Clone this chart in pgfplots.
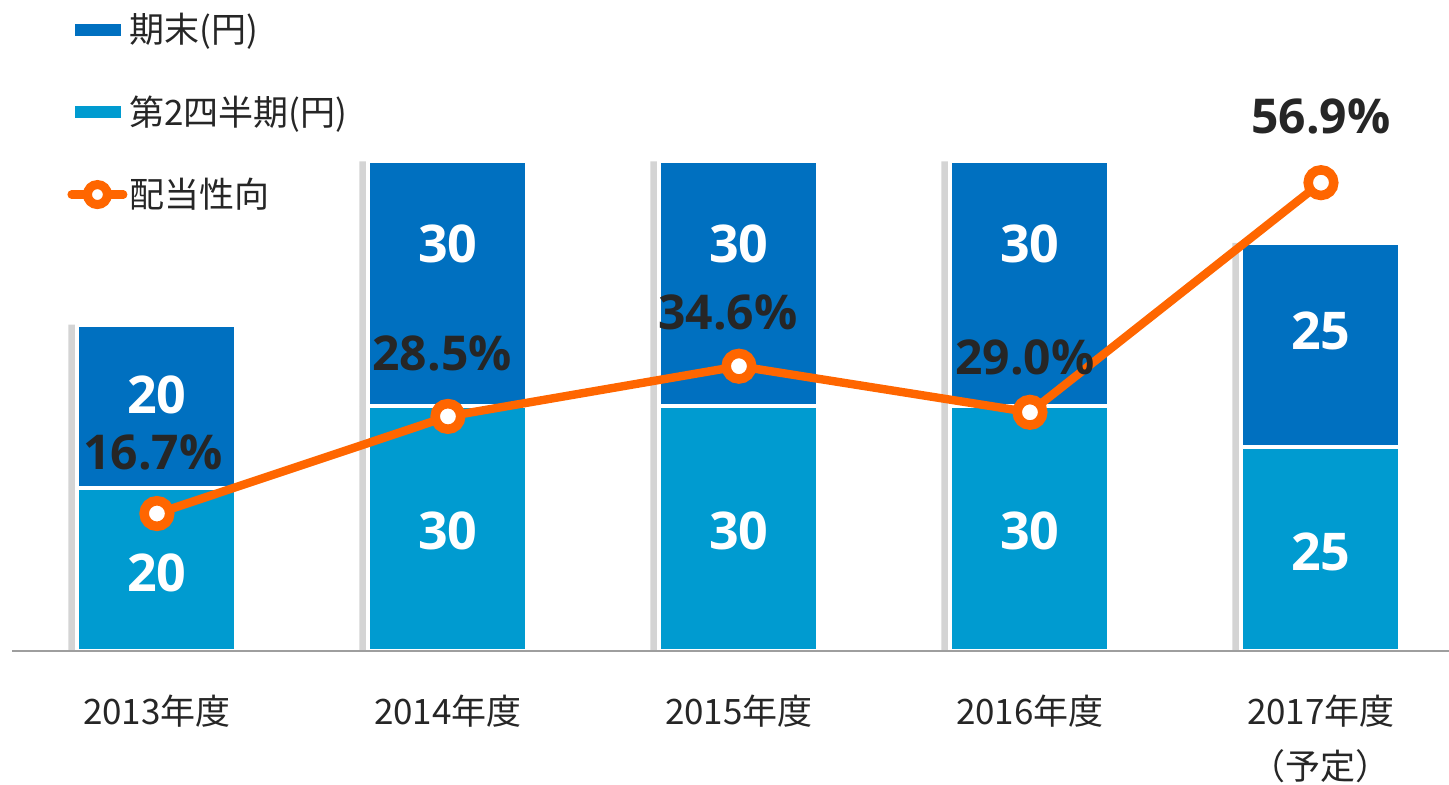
\documentclass[border=0pt]{standalone}
\usepackage{fontspec}
\setmainfont{Noto Sans CJK JP}
\newfontfamily\numfont{Open Sans}
\usepackage{pgfplots}
\pgfplotsset{compat=1.18}
\definecolor{dblue}{HTML}{0070C0}
\definecolor{lblue}{HTML}{009BD0}
\definecolor{lorange}{HTML}{FF6600}
\definecolor{txt}{HTML}{262626}
\pgfplotsset{
  common/.style={
    at={(6pt,67pt)}, anchor=south west,
    scale only axis, width=718.5pt, height=285.6pt,
    xmin=-0.498, xmax=4.44, clip=false,
  },
  linelegend/.style={legend image code/.code={%
    \draw[lorange, line width=4.2pt, line cap=round] (2.1pt,0pt) -- (27.9pt,0pt);
    \draw[lorange, line width=4.5pt, fill=white] (15pt,0pt) circle (5pt);}},
  darklegend/.style={legend image code/.code={\fill[dblue] (4pt,-2.75pt) rectangle (26.5pt,2.75pt);}},
  lightlegend/.style={legend image code/.code={\fill[lblue] (4pt,-2.75pt) rectangle (26.5pt,2.75pt);}},
}
\tikzset{
  barlab/.style={font=\numfont\bfseries\fontsize{26}{26}\selectfont, text=white, inner sep=0pt},
  pctlab/.style={font=\numfont\bfseries\fontsize{24}{24}\selectfont, text=txt, inner sep=0pt},
}
\begin{document}
\begin{tikzpicture}
\path[use as bounding box] (0,0) rectangle (724.5pt,392.5pt);
\begin{axis}[
  common,
  ymin=0, ymax=70,
  ybar stacked, bar width=79.5pt,
  hide y axis, axis x line*=bottom,
  x axis line style={draw=black!38, line width=1pt, -},
  axis on top,
  xtick={0,1,2,3,4},
  xticklabels={2013年度,2014年度,2015年度,2016年度,{2017年度\\（予定）}},
  xticklabel style={font=\fontsize{17.5}{27.5}\selectfont, text=txt, align=center, inner sep=0pt, anchor=north, yshift=-22pt},
  major tick length=0pt,
]
\addplot[fill=lblue, draw=white, line width=2pt,
  preaction={fill=black!17, draw=none, transform canvas={xshift=-4.5pt}}]
  coordinates {(0,20) (1,30) (2,30) (3,30) (4,25)};
\addplot[fill=dblue, draw=white, line width=2pt,
  preaction={fill=black!17, draw=none, transform canvas={xshift=-4.5pt}}]
  coordinates {(0,20) (1,30) (2,30) (3,30) (4,25)};
\end{axis}
\begin{axis}[
  common,
  ymin=0, ymax=69.4,
  axis lines=none, ticks=none,
  legend style={at={(0.0383,1.117)}, anchor=north west, draw=none, fill=none,
    font=\fontsize{17.5}{17.5}\selectfont, text=txt, row sep=25pt, column sep=1pt,
    inner sep=0pt, nodes={inner sep=0pt}},
  legend cell align=left,
]
\addlegendimage{darklegend}
\addlegendentry{期末(円)}
\addlegendimage{lightlegend}
\addlegendentry{第2四半期(円)}
% bar value labels (positions in this axis' scale)
\node[barlab] at (axis cs:0,9.52) {20};
\node[barlab] at (axis cs:1,14.57) {30};
\node[barlab] at (axis cs:2,14.57) {30};
\node[barlab] at (axis cs:3,14.57) {30};
\node[barlab] at (axis cs:4,12.0) {25};
\node[barlab] at (axis cs:0,31.13) {20};
\node[barlab] at (axis cs:1,49.47) {30};
\node[barlab] at (axis cs:2,49.47) {30};
\node[barlab] at (axis cs:3,49.47) {30};
\node[barlab] at (axis cs:4,38.86) {25};
\addplot[lorange, line width=4.2pt, mark=*, mark size=6.4pt,
  mark options={fill=white, draw=lorange, line width=4.75pt}, linelegend]
  coordinates {(0,16.7) (1,28.5) (2,34.6) (3,29.0) (4,56.9)};
\addlegendentry{配当性向}
\node[pctlab] at (axis cs:-0.014,24.1) {16.7\%};
\node[pctlab] at (axis cs:0.98,36.2) {28.5\%};
\node[pctlab] at (axis cs:1.962,41.1) {34.6\%};
\node[pctlab] at (axis cs:2.983,35.7) {29.0\%};
\node[pctlab] at (axis cs:4,65.0) {56.9\%};
\end{axis}
\end{tikzpicture}
\end{document}
